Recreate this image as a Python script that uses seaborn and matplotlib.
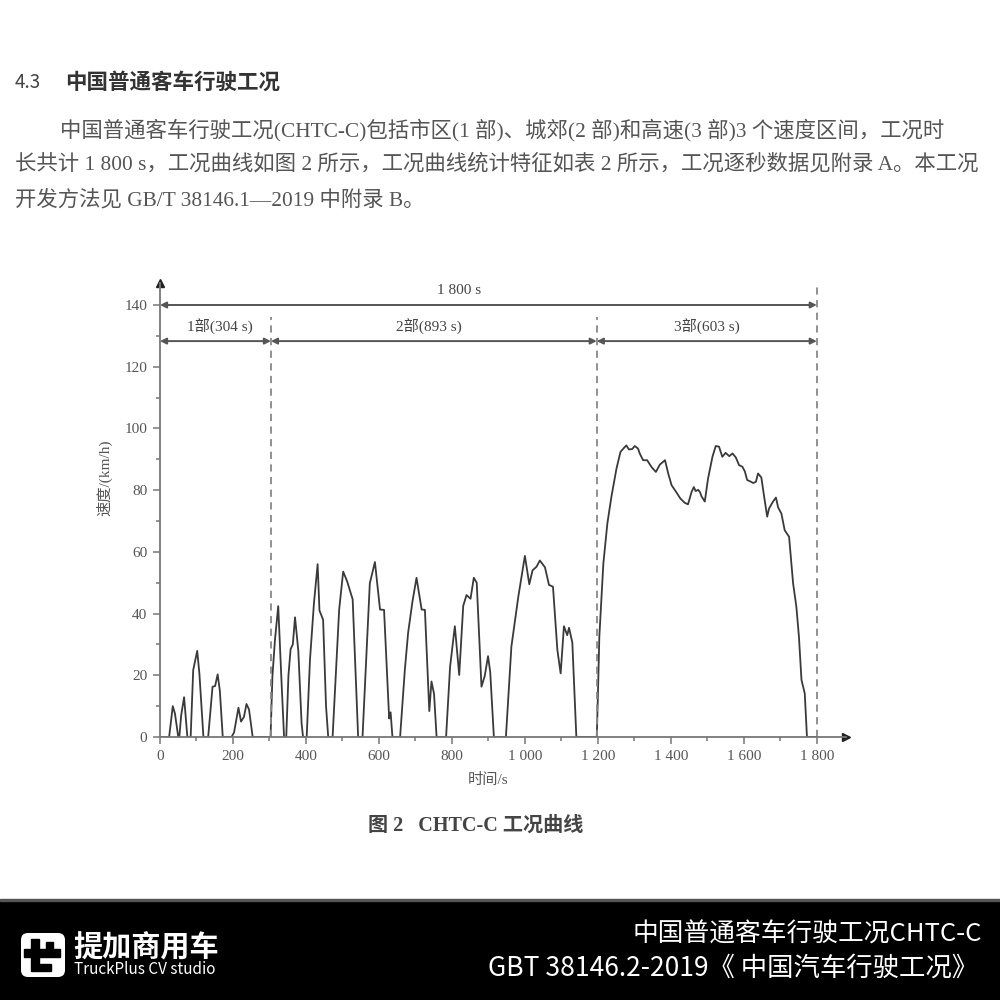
import matplotlib

matplotlib.use("Agg")
import matplotlib.pyplot as plt
import pandas as pd
import seaborn as sns
from matplotlib.patches import FancyBboxPatch, Rectangle

# CHTC-C speed trace, breakpoints (time in s, speed in km/h)
part1_t = [0, 25, 35, 41, 50, 53, 58, 66, 75, 84, 91, 102, 108, 119, 132, 144, 151, 158, 164, 172,
           196, 203, 215, 222, 230, 237, 244, 254]
part1_v = [0, 0, 10, 7.6, 0, 0, 7, 12.9, 0, 0, 21.7, 27.9, 20.5, 0, 0, 16.3, 16.5, 20.3, 15, 0,
           0, 1.5, 9.5, 5, 6.5, 10.7, 8.9, 0]

part2_t = [303, 308, 315, 324, 333, 340, 346, 352, 358, 364, 370, 379, 388, 392, 402, 411, 422, 432,
           437, 447, 455, 461, 473, 491, 502, 513, 528, 543, 555, 575, 589, 603, 614, 628, 632, 637,
           658, 671, 680, 692, 703, 717, 726, 738, 744, 751, 758, 784, 795, 808, 820, 831, 840, 851,
           860, 868, 881, 890, 899, 905, 915, 948, 963, 982, 1000, 1012, 1021, 1032, 1041, 1055,
           1066, 1077, 1089, 1098, 1107, 1116, 1121, 1130, 1141]
part2_v = [0, 19.5, 31.4, 42.4, 18, 0, 0, 20, 28.5, 30, 38.8, 28, 4.5, 0, 0, 25, 43.5, 56,
           41, 38, 10, 0, 0, 41.3, 53.6, 50.4, 44.6, 0, 0, 49.8, 56.7, 41.3, 41.2, 6, 8, 0,
           0, 21.8, 33.8, 44, 51.6, 41.3, 41.2, 8.4, 18, 14, 0, 0, 22.8, 35.9, 20.1, 42.5, 46, 44.8,
           51.6, 50, 16.3, 19.8, 26.2, 21, 0, 0, 29.3, 45.5, 58.7, 49.5, 54, 55.2, 57.2, 55,
           49.3, 48.7, 28.2, 20.6, 35.9, 33, 35.4, 30.6, 0]

part3_t = [1197, 1200, 1204, 1215, 1226, 1237, 1251, 1262, 1270, 1278, 1285, 1294, 1301, 1310, 1315,
           1324, 1335, 1347, 1359, 1370, 1384, 1393, 1402, 1414, 1426, 1438, 1447, 1457, 1463, 1468,
           1475, 1480, 1484, 1493, 1502, 1514, 1523, 1532, 1541, 1550, 1560, 1569, 1578, 1587, 1596,
           1603, 1609, 1618, 1626, 1633, 1639, 1648, 1655, 1664, 1669, 1680, 1688, 1694, 1703, 1712,
           1724, 1735, 1744, 1751, 1758, 1762, 1767, 1773, 1800]
part3_v = [0, 13, 32.5, 56.2, 69.2, 77.8, 87, 92.4, 93.5, 94.5, 93.2, 93.3, 94.3, 93.5, 91.8,
           89.7, 89.7, 87.5, 85.9, 88.3, 89.7, 85.3, 81.6, 79.5, 77.3, 75.9, 75.4, 79.5, 81, 79.7,
           80.1, 79.3, 78, 76.3, 83.8, 90.8, 94.3, 94.1, 90.8, 92.1, 91, 91.9, 90.6, 88.1, 87.6,
           86, 83.3, 82.8, 82.3, 82.7, 85.4, 84.1, 78.4, 71.4, 74, 76.3, 77.6, 74.4, 72.4, 67,
           64.9, 49.8, 42.2, 32.5, 18.5, 16.5, 14.1, 0, 0]

part_bounds = [0, 304, 1197, 1800]
part_labels = ["1部(304 s)", "2部(893 s)", "3部(603 s)"]
part_label_x = [165, 737, 1500]
total_label = "1 800 s"

x_ticks = [0, 200, 400, 600, 800, 1000, 1200, 1400, 1600, 1800]
x_tick_labels = ["0", "200", "400", "600", "800", "1 000", "1 200", "1 400", "1 600", "1 800"]
y_ticks = [0, 20, 40, 60, 80, 100, 120, 140]

heading = "中国普通客车行驶工况"
para_lines = [
    "中国普通客车行驶工况(CHTC-C)包括市区(1 部)、城郊(2 部)和高速(3 部)3 个速度区间，工况时",
    "长共计 1 800 s，工况曲线如图 2 所示，工况曲线统计特征如表 2 所示，工况逐秒数据见附录 A。本工况",
    "开发方法见 GB/T 38146.1—2019 中附录 B。",
]
caption = "图 2   CHTC-C 工况曲线"
banner_title = "中国普通客车行驶工况CHTC-C"
banner_source = "GBT 38146.2-2019《 中国汽车行驶工况》"

df = pd.DataFrame({"time_s": part1_t + part2_t + part3_t,
                   "speed_kmh": part1_v + part2_v + part3_v})

sns.set_theme(style="ticks")
plt.rcParams["font.family"] = ["Liberation Serif", "Noto Sans CJK SC", "DejaVu Sans"]
sans = ["Noto Sans CJK SC", "DejaVu Sans"]

fig = plt.figure(figsize=(10, 10), dpi=100)
fig.patch.set_facecolor("white")
ax = fig.add_axes([0.16, 0.263, 0.686, 0.4536])

sns.lineplot(data=df, x="time_s", y="speed_kmh", estimator=None, sort=False,
             color="#3a3a3a", linewidth=1.3, ax=ax)

ax.set_xlim(0, 1880)
ax.set_ylim(0, 147)
for side in ["top", "right"]:
    ax.spines[side].set_visible(False)
for side in ["left", "bottom"]:
    ax.spines[side].set_color("#777777")
    ax.spines[side].set_linewidth(1.3)
ax.plot(1, 0, ">", color="#222222", ms=6, transform=ax.transAxes, clip_on=False)
ax.plot(0, 1, "^", color="#222222", ms=6, transform=ax.transAxes, clip_on=False)

ax.set_xticks(x_ticks)
ax.set_xticklabels(x_tick_labels)
ax.set_xticks(range(100, 1800, 200), minor=True)
ax.set_yticks(y_ticks)
ax.set_yticks(range(10, 140, 20), minor=True)
ax.tick_params(which="both", direction="out", color="#777777", width=1.1)
ax.tick_params(which="major", length=5, labelsize=11, labelcolor="#555555", pad=4)
ax.tick_params(which="minor", length=3)

ax.set_xlabel("时间/s", fontsize=11, color="#555555")
ax.xaxis.set_label_coords(900 / 1880, -0.08)
ax.set_ylabel("速度/(km/h)", fontsize=11, color="#555555")
ax.yaxis.set_label_coords(-0.07, 0.571)

# part boundaries and dimension arrows
dash = (0, (4, 3))
ax.vlines(part_bounds[1:3], 0, 136, colors="#888888", linestyles=dash, linewidth=1.3)
ax.vlines(part_bounds[3], 0, 147, colors="#888888", linestyles=dash, linewidth=1.3, clip_on=False)
arrow = dict(arrowstyle="<|-|>", color="#555555", lw=1.4, shrinkA=0, shrinkB=0, mutation_scale=9)
ax.annotate("", xy=(part_bounds[-1], 140), xytext=(part_bounds[0], 140), arrowprops=arrow)
ax.text(820, 144.6, total_label, ha="center", va="center", fontsize=11, color="#444444")
for start, end, label, lx in zip(part_bounds[:-1], part_bounds[1:], part_labels, part_label_x):
    ax.annotate("", xy=(end, 128.3), xytext=(start, 128.3), arrowprops=arrow)
    ax.text(lx, 132.8, label, ha="center", va="center", fontsize=11, color="#444444")

# document text around the figure
fig.text(0.015, 0.918, "4.3", fontsize=13.5, color="#444444", family=sans, va="center")
fig.text(0.065, 0.918, heading, fontsize=15.5, fontweight="bold", color="#333333",
         family=sans, va="center")
fig.text(0.06, 0.870, para_lines[0], fontsize=15.4, color="#555555", va="center")
fig.text(0.015, 0.836, para_lines[1], fontsize=15.4, color="#555555", va="center")
fig.text(0.015, 0.800, para_lines[2], fontsize=15.4, color="#555555", va="center")
fig.text(0.476, 0.174, caption, fontsize=14.5, fontweight="bold", color="#444444",
         ha="center", va="center")

# bottom banner
fig.add_artist(Rectangle((0, 0), 1, 0.1, transform=fig.transFigure, color="black", zorder=0))
fig.add_artist(Rectangle((0, 0.099), 1, 0.002, transform=fig.transFigure, color="#555555", zorder=1))
fig.add_artist(FancyBboxPatch((0.021, 0.023), 0.044, 0.044, transform=fig.transFigure,
                              boxstyle="round,pad=0,rounding_size=0.007",
                              fc="white", ec="none", zorder=2))
fig.add_artist(Rectangle((0.031, 0.029), 0.008, 0.032, transform=fig.transFigure,
                         color="black", zorder=3))
fig.add_artist(Rectangle((0.024, 0.043), 0.036, 0.008, transform=fig.transFigure,
                         color="black", zorder=3))
fig.add_artist(Rectangle((0.039, 0.029), 0.012, 0.007, transform=fig.transFigure,
                         color="black", zorder=3))
fig.add_artist(Rectangle((0.046, 0.051), 0.007, 0.007, transform=fig.transFigure,
                         color="black", zorder=3))
fig.text(0.073, 0.053, "提加商用车", fontsize=21, fontweight="bold", color="white",
         family=sans, va="center")
fig.text(0.074, 0.031, "TruckPlus CV studio", fontsize=11, color="white",
         family=sans, va="center")
fig.text(0.982, 0.065, banner_title, fontsize=18.5, color="white", family=sans,
         ha="right", va="center")
fig.text(0.978, 0.032, banner_source, fontsize=19, color="white", family=sans,
         ha="right", va="center")

fig.savefig("out.png", dpi=100, facecolor="white")
